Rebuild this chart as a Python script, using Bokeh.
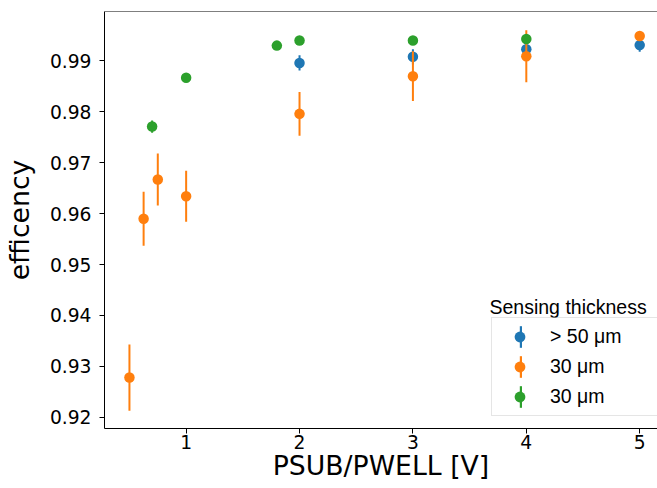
from bokeh.plotting import figure
from bokeh.models import (ColumnDataSource, Range1d, FixedTicker, NumeralTickFormatter,
                          Legend, LegendItem, Label, Span)
from bokeh.embed import file_html
from bokeh.resources import INLINE

# ---- data ----
series_labels = ["> 50 \u03bcm", "30 \u03bcm", "30 \u03bcm"]
series_colors = ["#1f77b4", "#ff7f0e", "#2ca02c"]

volt_thick = [2, 3, 4, 5]
eff_thick = [0.9896, 0.9908, 0.9923, 0.9931]
err_thick = [0.0015, 0.0015, 0.0010, 0.0013]

volt_30a = [0.5, 0.625, 0.75, 1, 2, 3, 4, 5]
eff_30a = [0.9278, 0.9590, 0.9667, 0.9634, 0.9796, 0.9870, 0.9909, 0.9949]
err_30a = [0.0065, 0.0053, 0.0051, 0.0050, 0.0043, 0.0049, 0.0051, 0.0003]

volt_30b = [0.7, 1, 1.8, 2, 3, 4]
eff_30b = [0.9771, 0.9867, 0.9930, 0.9940, 0.9940, 0.9943]
err_30b = [0.0012, 0.0004, 0.0004, 0.0003, 0.0003, 0.0003]

x_ticks = [1, 2, 3, 4, 5]
y_ticks = [0.92, 0.93, 0.94, 0.95, 0.96, 0.97, 0.98, 0.99]

x_label = "PSUB/PWELL [V]"
y_label = "efficency"
legend_title = "Sensing thickness"

# ---- figure ----
Y_END = 0.9997
p = figure(width=657, height=488, output_backend="svg", toolbar_location=None,
           x_range=Range1d(0.28, 5.157), y_range=Range1d(0.9178, Y_END),
           min_border_left=103, min_border_right=0, min_border_top=11, min_border_bottom=60)
p.outline_line_color = None
p.grid.visible = False
p.background_fill_color = "white"
p.border_fill_color = "white"

for ax in (p.xaxis[0], p.yaxis[0]):
    ax.axis_line_color = "black"
    ax.axis_line_width = 1
    ax.major_tick_line_color = "black"
    ax.major_tick_in = 0
    ax.major_tick_out = 5
    ax.minor_tick_line_color = None
    ax.major_label_text_font = "DejaVu Sans"
    ax.major_label_text_font_size = "18.7px"
    ax.major_label_text_color = "black"
    ax.axis_label_text_font = "DejaVu Sans"
    ax.axis_label_text_font_size = "26.7px"
    ax.axis_label_text_font_style = "normal"
    ax.axis_label_text_color = "black"

p.xaxis.ticker = FixedTicker(ticks=x_ticks)
p.yaxis.ticker = FixedTicker(ticks=y_ticks)
p.yaxis.formatter = NumeralTickFormatter(format="0.00")
p.xaxis.axis_label = x_label
p.yaxis.axis_label = y_label
p.xaxis.major_label_standoff = 1
p.xaxis.axis_label_standoff = -2
p.yaxis.major_label_standoff = 8
p.yaxis.axis_label_standoff = 12

p.add_layout(Span(location=Y_END, dimension="width", line_color="black", line_width=1))

err_renderers = []
dot_renderers = []
for xs, ys, es, c in [(volt_thick, eff_thick, err_thick, series_colors[0]),
                      (volt_30a, eff_30a, err_30a, series_colors[1]),
                      (volt_30b, eff_30b, err_30b, series_colors[2])]:
    src = ColumnDataSource(dict(x=xs, y=ys, h=[2 * e for e in es]))
    r_err = p.rect(x="x", y="y", width=2, width_units="screen", height="h",
                   fill_color=c, line_color=None, source=src)
    r_dot = p.scatter(x="x", y="y", size=10.5, marker="circle",
                      fill_color=c, line_color=None, source=src)
    err_renderers.append(r_err)
    dot_renderers.append(r_dot)

common = dict(glyph_height=27, spacing=3, padding=5, margin=0,
              label_text_font="Liberation Sans", label_text_font_size="19.5px")

leg_err = Legend(items=[LegendItem(label=" ", renderers=[r]) for r in err_renderers],
                 location=(415, 18), glyph_width=3, label_text_alpha=0, label_standoff=0,
                 background_fill_alpha=0, border_line_color=None, **common)
leg_dot = Legend(items=[LegendItem(label=l, renderers=[r]) for l, r in zip(series_labels, dot_renderers)],
                 location=(387, 12), glyph_width=45, label_standoff=8, label_width=110,
                 label_text_color="black",
                 background_fill_alpha=0, border_line_color="#cccccc", border_line_width=1,
                 **common)
p.add_layout(leg_err, "center")
p.add_layout(leg_dot, "center")

p.add_layout(Label(x=385, y=122, x_units="screen", y_units="screen", text=legend_title,
                   text_font="Liberation Sans", text_font_size="19.5px", text_color="black",
                   text_baseline="middle", text_align="left"))

open("out.html", "w").write(file_html(p, INLINE))
